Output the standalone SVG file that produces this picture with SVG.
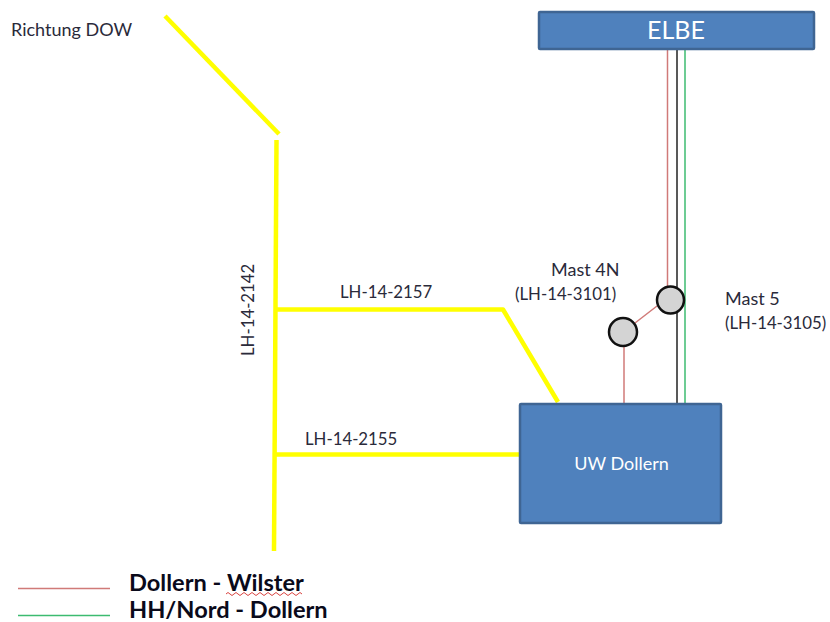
<svg xmlns="http://www.w3.org/2000/svg" width="830" height="622" viewBox="0 0 830 622">
<style>
.box{fill:#4f81bd;stroke:#3f6593;stroke-width:2.5}
.y{fill:none;stroke:#ffff00;stroke-width:4.500;stroke-linejoin:round}
.r{fill:none;stroke:#d07a78;stroke-width:1.500}
.g{fill:none;stroke:#3cbb70;stroke-width:1.500}
.k{fill:none;stroke:#222;stroke-width:1.500}
.m{fill:#d4d4d4;stroke:#111;stroke-width:2.500}
text{font-family:Lato,"Open Sans","Liberation Sans",sans-serif;fill:#2a2a3a;font-size:16.800px}
.w{font-size:18px}
.b{font-weight:700;font-size:23.600px;fill:#0a0a1a}
</style>
<g id="connectors">
<path class="y" d="M165 16L279 134"/>
<path class="y" d="M276.500 140L274 551"/>
<path class="y" d="M276 309.500H503L558 402"/>
<path class="y" d="M274 454.500H521"/>
<path class="r" d="M667.500 50V288"/>
<path class="k" d="M677 50V404"/>
<path class="g" d="M685 50V404"/>
<path class="r" d="M657 306L635 323"/>
<path class="r" d="M624 346V404"/>
</g>
<g id="elbe"><rect class="box" x="539" y="12" width="275" height="37" rx="1"/><text x="676" y="39" text-anchor="middle" style="font-size:25px;fill:#fff">ELBE</text></g>
<g id="uw-dollern"><rect class="box" x="520" y="404" width="201" height="119" rx="1"/><text class="w" x="621.500" y="470" text-anchor="middle" style="fill:#fff">UW Dollern</text></g>
<g id="mast-5"><circle class="m" cx="670.500" cy="300" r="13.500"/><text class="w" x="725" y="305">Mast 5</text><text x="725" y="329">(LH-14-3105)</text></g>
<g id="mast-4n"><circle class="m" cx="623" cy="332" r="14"/><text class="w" x="551" y="276">Mast 4N</text><text x="515" y="300">(LH-14-3101)</text></g>
<g id="labels">
<text class="w" x="11" y="36">Richtung DOW</text>
<text x="340" y="298">LH-14-2157</text>
<text x="305" y="445">LH-14-2155</text>
<text transform="translate(254 356) rotate(-90)">LH-14-2142</text>
</g>
<g id="legend">
<path class="r" d="M18 588.500H110"/>
<path class="g" d="M18 615.500H110"/>
<text class="b" x="129" y="591">Dollern - Wilster</text>
<text class="b" x="129" y="618">HH/Nord - Dollern</text>
<path d="M226 594q2-3 4 0t4 0 4 0 4 0 4 0 4 0 4 0 4 0 4 0 4 0 4 0 4 0 4 0 4 0 4 0 4 0 4 0 4 0 4 0" fill="none" stroke="#d9433f" stroke-width="1"/>
</g>
</svg>
